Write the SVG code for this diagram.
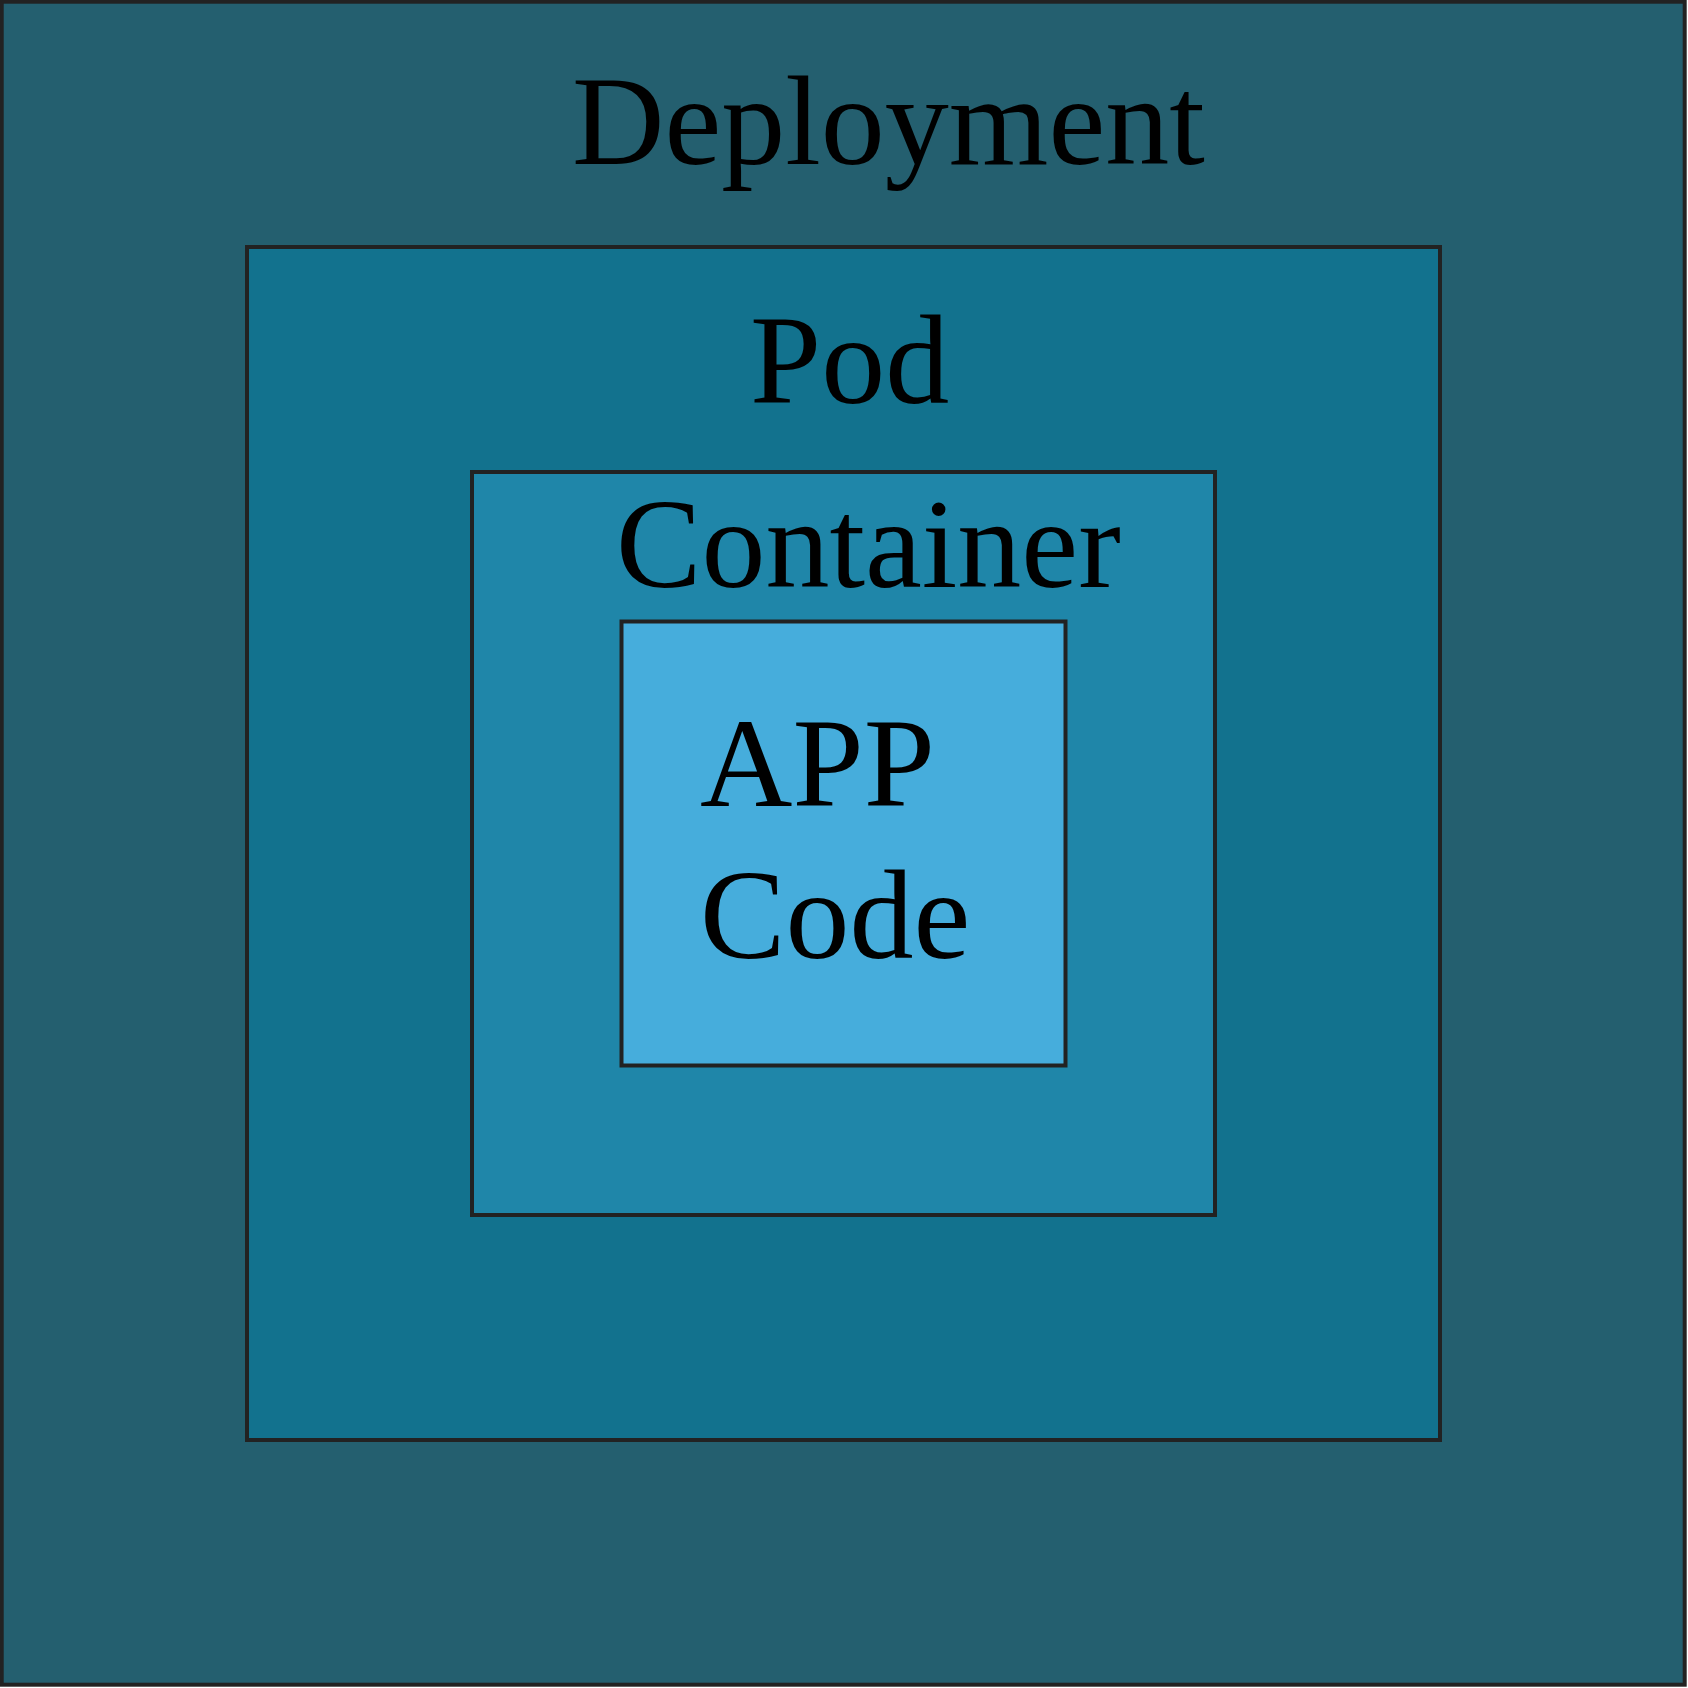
<svg xmlns="http://www.w3.org/2000/svg" width="1688" height="1688" viewBox="0 0 1688 1688">
  <style>
    .box { stroke: #222222; stroke-width: 4; }
    .lbl { font-family: "Liberation Serif", "Times New Roman", serif; font-size: 128px; fill: #000000; }
  </style>
  <g id="deployment">
    <rect class="box" x="1.7" y="1.7" width="1683" height="1683" fill="#245F6F" stroke-width="3.5"/>
    <text class="lbl" x="572" y="164">Deployment</text>
  </g>
  <g id="pod">
    <rect class="box" x="247" y="247" width="1193" height="1193" fill="#12728E"/>
    <text class="lbl" x="750" y="403">Pod</text>
  </g>
  <g id="container">
    <rect class="box" x="472" y="472" width="743" height="743" fill="#1F86A9"/>
    <text class="lbl" x="616" y="587">Container</text>
  </g>
  <g id="app-code">
    <rect class="box" x="621.5" y="621.5" width="444" height="444" fill="#46ADDC"/>
    <text class="lbl" x="700" y="806">APP</text>
    <text class="lbl" x="700" y="958">Code</text>
  </g>
  <g id="connectors"></g>
</svg>
